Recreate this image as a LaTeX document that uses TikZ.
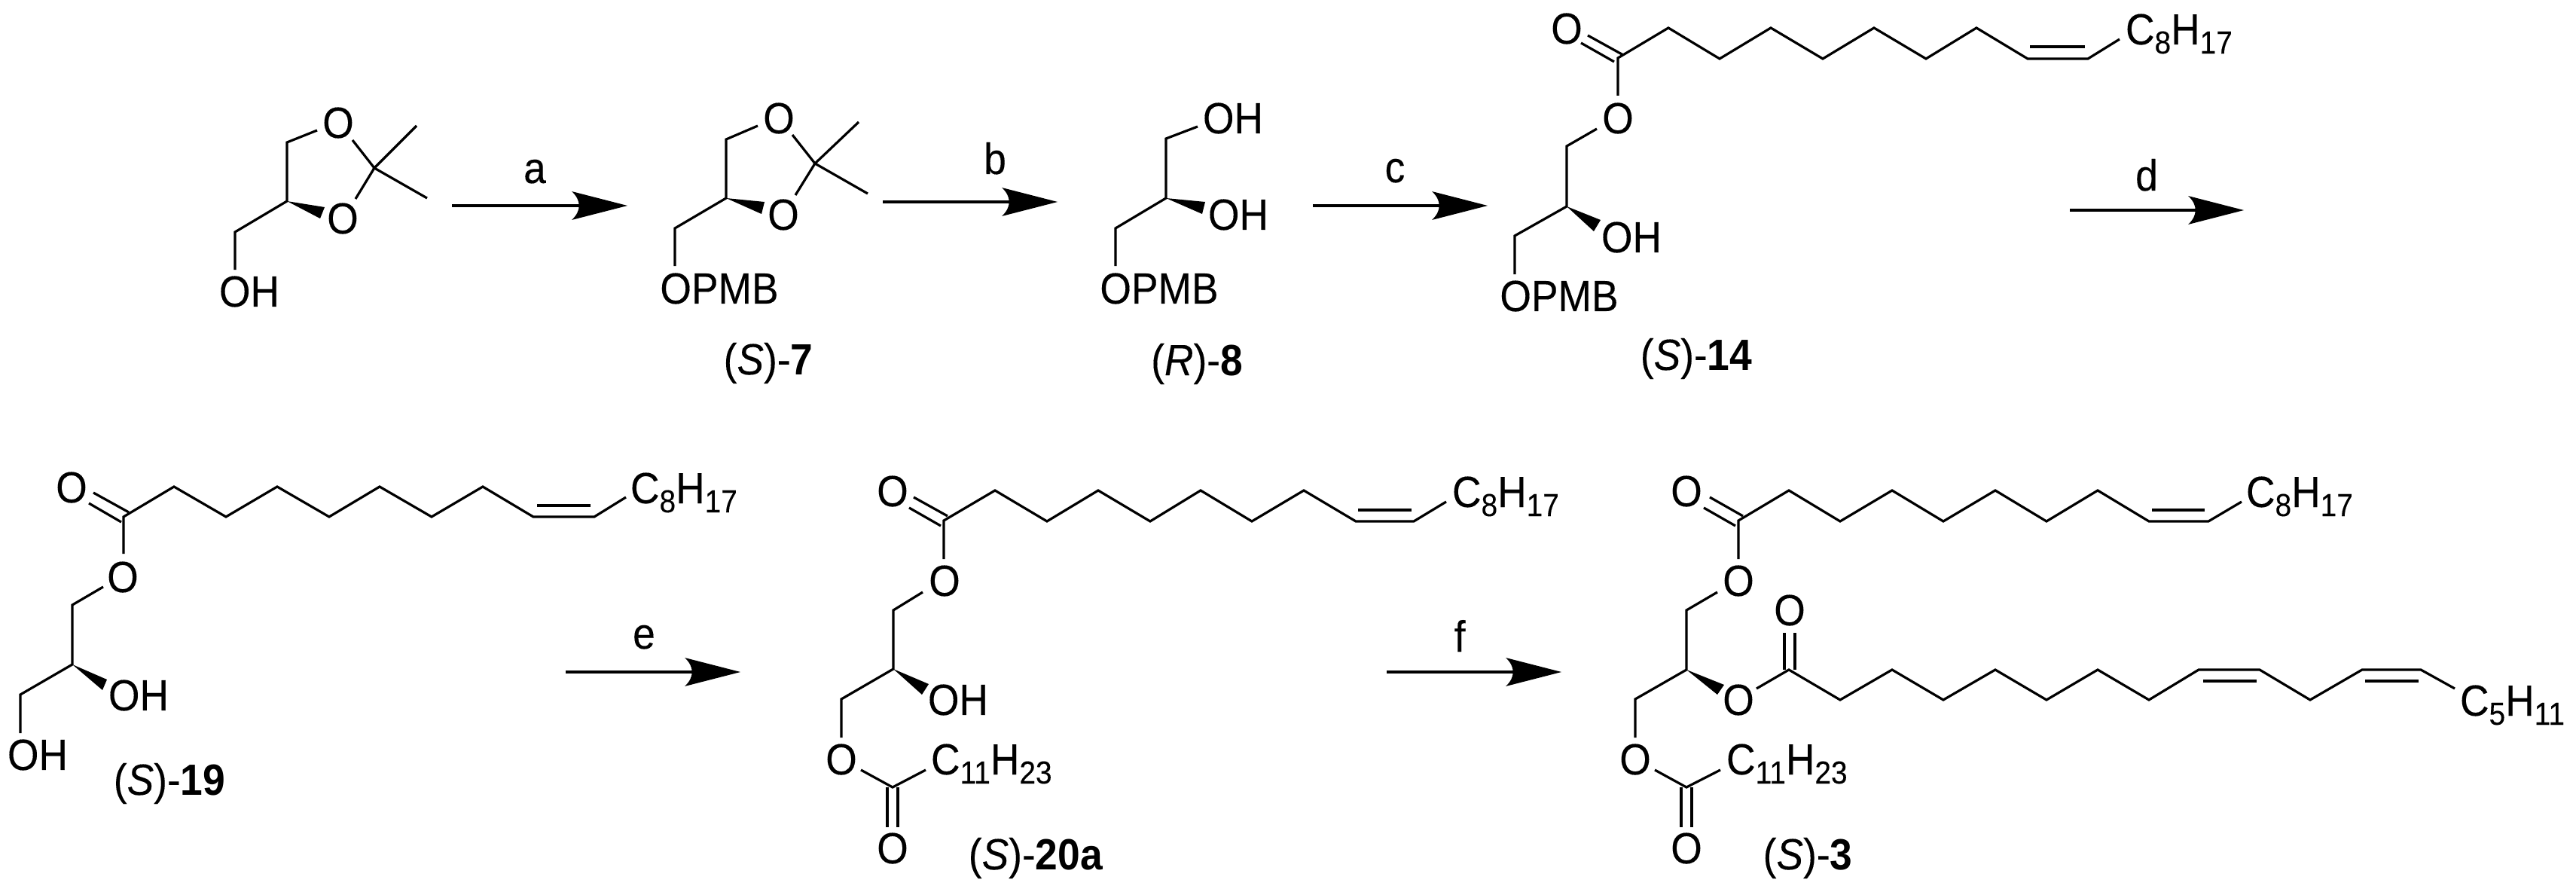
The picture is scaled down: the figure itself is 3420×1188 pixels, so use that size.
\documentclass[tikz,border=0pt]{standalone}
\usepackage{fontspec}
\setmainfont[FakeStretch=0.92,UprightFeatures={FakeBold=0.2},ItalicFeatures={FakeBold=0.2}]{Liberation Sans}
\usetikzlibrary{arrows.meta}
\newcommand{\sbs}[1]{\raisebox{-0.12cm}{\fontsize{12}{12}\selectfont #1}}
\tikzset{
  bond/.style={line width=0.032cm,line join=miter,line cap=butt},
  wedgeb/.style={fill=black,draw=none},
  rxn/.style={line width=0.033cm,shorten >=0.3cm},
  ahead/.pic={\fill[black] (0,0)--(-74,-19) .. controls (-61,-7) and (-61,7) .. (-74,19)--cycle;},
  atom/.style={inner sep=0pt,outer sep=0pt,font=\fontsize{16.5}{16.5}\selectfont},
  atomb/.style={atom,anchor=base west},
  cpd/.style={atom,anchor=base},
  lab/.style={atom}
}
\newcommand{\pts}[1]{\foreach \n/\xx/\yy in {#1}{\coordinate (\n) at (\xx,\yy);}}
\begin{document}
\begin{tikzpicture}[x=0.01cm,y=-0.01cm]
\useasboundingbox (0,0) rectangle (3420,1188);
\fill[white] (0,0) rectangle (3420,1188);

% --- starting diol acetonide
\pts{a1/421/173,a2/381/189,a3/381/267,a4/312/308,a5/312/358,a6/468/186,a7/497/223,a8/472/264,a9/553/167,a10/567/263,a11/431/275,a12/425/290}
\node[lab] (aO1) at (449,163) {O};
\node[lab] (aO2) at (455,290) {O};
\node[lab] (aOH) at (331,387) {OH};
\draw[bond] (a1)--(a2)--(a3)--(a4)--(a5);
\draw[bond] (a6)--(a7)--(a8);
\draw[bond] (a9)--(a7)--(a10);
\fill[wedgeb] (a3)--(a11)--(a12)--cycle;

% --- (S)-7
\pts{b1/1006/167,b2/964/185,b3/964/263,b4/896/303,b5/896/353,b6/1052/179,b7/1082/217,b8/1056/259,b9/1140/162,b10/1152/257,b11/1015/268,b12/1011/284}
\node[lab] (bO1) at (1034,157) {O};
\node[lab] (bO2) at (1040,285) {O};
\node[lab] (bOPMB) at (955,383) {OPMB};
\node[cpd] (bname) at (1020,497) {(\textit{S})-\textbf{7}};
\draw[bond] (b1)--(b2)--(b3)--(b4)--(b5);
\draw[bond] (b6)--(b7)--(b8);
\draw[bond] (b9)--(b7)--(b10);
\fill[wedgeb] (b3)--(b11)--(b12)--cycle;

% --- (R)-8
\pts{c1/1590/168,c2/1548/184,c3/1548/263,c4/1481/303,c5/1481/353,c6/1600/268,c7/1596/284}
\node[lab] (cOH1) at (1637,157) {OH};
\node[lab] (cOH2) at (1644,285) {OH};
\node[lab] (cOPMB) at (1539,383) {OPMB};
\node[cpd] (cname) at (1589,498) {(\textit{R})-\textbf{8}};
\draw[bond] (c1)--(c2)--(c3)--(c4)--(c5);
\fill[wedgeb] (c3)--(c6)--(c7)--cycle;

% --- (S)-14
\pts{d1/2148/77,d2/2215/37,d3/2283/78,d4/2351/37,d5/2420/78,d6/2488/37,d7/2557/78,d8/2624/37,d9/2692/78,d10/2772/78,d11/2814/52,d12/2695/62,d13/2768/62,d14/2108/47,d15/2155/73,d16/2099/57,d17/2143/82,d18/2148/127,d19/2120/171,d20/2080/194,d21/2080/274,d22/2011/313,d23/2011/364,d24/2125/292,d25/2116/307}
\node[lab] (dO1) at (2080,38) {O};
\node[lab] (dO2) at (2148,157) {O};
\node[atomb] (dR) at (2822,59) {C\sbs{8}H\sbs{17}};
\node[lab] (dOH) at (2166,315) {OH};
\node[lab] (dOPMB) at (2070,393) {OPMB};
\node[cpd] (dname) at (2252,491) {(\textit{S})-\textbf{14}};
\draw[bond] (d18)--(d1)--(d2)--(d3)--(d4)--(d5)--(d6)--(d7)--(d8)--(d9)--(d10)--(d11);
\draw[bond] (d12)--(d13);
\draw[bond] (d14)--(d15);
\draw[bond] (d16)--(d17);
\draw[bond] (d19)--(d20)--(d21)--(d22)--(d23);
\fill[wedgeb] (d21)--(d24)--(d25)--cycle;

% --- (S)-19
\pts{e1/164/686,e2/231/646,e3/300/686,e4/368/646,e5/437/686,e6/504/646,e7/573/686,e8/641/646,e9/708/686,e10/789/686,e11/831/660,e12/713/671,e13/784/671,e14/124/654,e15/171/680,e16/118/668,e17/161/693,e18/164/735,e19/137/779,e20/96/803,e21/96/882,e22/27/922,e23/27/973,e24/142/902,e25/136/916}
\node[lab] (eO1) at (95,647) {O};
\node[lab] (eO2) at (163,766) {O};
\node[atomb] (eR) at (837,668) {C\sbs{8}H\sbs{17}};
\node[lab] (eOH1) at (184,923) {OH};
\node[lab] (eOH2) at (50,1002) {OH};
\node[cpd] (ename) at (225,1055) {(\textit{S})-\textbf{19}};
\draw[bond] (e18)--(e1)--(e2)--(e3)--(e4)--(e5)--(e6)--(e7)--(e8)--(e9)--(e10)--(e11);
\draw[bond] (e12)--(e13);
\draw[bond] (e14)--(e15);
\draw[bond] (e16)--(e17);
\draw[bond] (e19)--(e20)--(e21)--(e22)--(e23);
\fill[wedgeb] (e21)--(e24)--(e25)--cycle;

% --- (S)-20a
\pts{f1/1253/691,f2/1321/651,f3/1390/692,f4/1458/651,f5/1527/692,f6/1594/651,f7/1662/692,f8/1731/651,f9/1800/692,f10/1877/692,f11/1920/666,f12/1803/677,f13/1874/677,f14/1213/660,f15/1258/685,f16/1207/674,f17/1249/698,f18/1253/742,f19/1225/786,f20/1186/810,f21/1186/888,f22/1117/928,f23/1117/979,f24/1233/908,f25/1224/922,f26/1143/1022,f27/1185/1045,f28/1229/1022,f29/1178/1045,f30/1178/1098,f31/1192/1045,f32/1192/1098}
\node[lab] (fO1) at (1185,652) {O};
\node[lab] (fO2) at (1254,771) {O};
\node[atomb] (fR) at (1928,673) {C\sbs{8}H\sbs{17}};
\node[lab] (fOH) at (1272,929) {OH};
\node[lab] (fO3) at (1117,1008) {O};
\node[atomb] (fR2) at (1236,1028) {C\sbs{11}H\sbs{23}};
\node[lab] (fO4) at (1185,1126) {O};
\node[cpd] (fname) at (1375,1154) {(\textit{S})-\textbf{20a}};
\draw[bond] (f18)--(f1)--(f2)--(f3)--(f4)--(f5)--(f6)--(f7)--(f8)--(f9)--(f10)--(f11);
\draw[bond] (f12)--(f13);
\draw[bond] (f14)--(f15);
\draw[bond] (f16)--(f17);
\draw[bond] (f19)--(f20)--(f21)--(f22)--(f23);
\draw[bond] (f26)--(f27)--(f28);
\draw[bond] (f29)--(f30);
\draw[bond] (f31)--(f32);
\fill[wedgeb] (f21)--(f24)--(f25)--cycle;

% --- (S)-3
\pts{g1/2308/691,g2/2375/651,g3/2443/692,g4/2512/651,g5/2580/692,g6/2649/651,g7/2717/692,g8/2785/651,g9/2853/692,g10/2932/692,g11/2976/666,g12/2857/677,g13/2927/677,g14/2270/660,g15/2314/685,g16/2262/674,g17/2304/698,g18/2308/742,g19/2280/786,g20/2239/810,g21/2239/889,g22/2171/928,g23/2171/979,g24/2289/909,g25/2280/922,g26/2197/1022,g27/2239/1045,g28/2284/1022,g29/2232/1045,g30/2232/1098,g31/2246/1045,g32/2246/1098}
\pts{h1/2332/914,h2/2375/889,h3/2443/929,h4/2512/889,h5/2580/929,h6/2649/889,h7/2717/929,h8/2785/889,h9/2853/929,h10/2919/889,h11/3000/889,h12/3067/929,h13/3136/889,h14/3214/889,h15/3259/914,h16/2925/904,h17/2996/904,h18/3140/904,h19/3211/904,h20/2369/889,h21/2369/840,h22/2383/889,h23/2383/840}
\node[lab] (gO1) at (2239,652) {O};
\node[lab] (gO2) at (2308,771) {O};
\node[atomb] (gR) at (2982,673) {C\sbs{8}H\sbs{17}};
\node[lab] (gO5) at (2308,929) {O};
\node[lab] (gO6) at (2376,810) {O};
\node[atomb] (gR3) at (3266,950) {C\sbs{5}H\sbs{11}};
\node[lab] (gO3) at (2171,1008) {O};
\node[atomb] (gR2) at (2292,1028) {C\sbs{11}H\sbs{23}};
\node[lab] (gO4) at (2239,1126) {O};
\node[cpd] (gname) at (2400,1154) {(\textit{S})-\textbf{3}};
\draw[bond] (g18)--(g1)--(g2)--(g3)--(g4)--(g5)--(g6)--(g7)--(g8)--(g9)--(g10)--(g11);
\draw[bond] (g12)--(g13);
\draw[bond] (g14)--(g15);
\draw[bond] (g16)--(g17);
\draw[bond] (g19)--(g20)--(g21)--(g22)--(g23);
\draw[bond] (g26)--(g27)--(g28);
\draw[bond] (g29)--(g30);
\draw[bond] (g31)--(g32);
\fill[wedgeb] (g21)--(g24)--(g25)--cycle;
\draw[bond] (h1)--(h2)--(h3)--(h4)--(h5)--(h6)--(h7)--(h8)--(h9)--(h10)--(h11)--(h12)--(h13)--(h14)--(h15);
\draw[bond] (h16)--(h17);
\draw[bond] (h18)--(h19);
\draw[bond] (h20)--(h21);
\draw[bond] (h22)--(h23);

% --- reaction arrows
\pts{ra1/600/273,ra2/833/273,rb1/1172/268,rb2/1404/268,rc1/1743/273,rc2/1975/273,rd1/2748/279,rd2/2979/279,re1/751/892,re2/983/892,rf1/1841/892,rf2/2073/892}
\draw[rxn] (ra1)--(ra2); \pic at (ra2) {ahead};
\draw[rxn] (rb1)--(rb2); \pic at (rb2) {ahead};
\draw[rxn] (rc1)--(rc2); \pic at (rc2) {ahead};
\draw[rxn] (rd1)--(rd2); \pic at (rd2) {ahead};
\draw[rxn] (re1)--(re2); \pic at (re2) {ahead};
\draw[rxn] (rf1)--(rf2); \pic at (rf2) {ahead};
\node[lab,anchor=base] (la) at (710,243) {a};
\node[lab,anchor=base] (lb) at (1321,231) {b};
\node[lab,anchor=base] (lc) at (1852,242) {c};
\node[lab,anchor=base] (ld) at (2850,253) {d};
\node[lab,anchor=base] (le) at (855,861) {e};
\node[lab,anchor=base] (lf) at (1938,865) {f};
\end{tikzpicture}
\end{document}
